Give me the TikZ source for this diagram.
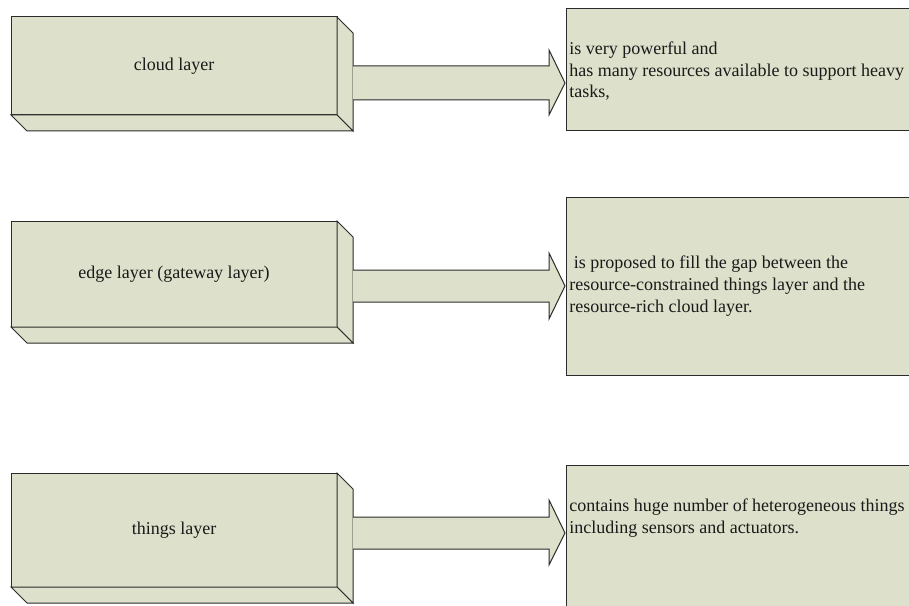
\documentclass[tikz,border=0pt]{standalone}
\usepackage{fontspec}
\setmainfont{Liberation Serif}
\definecolor{boxfill}{HTML}{DDE0CA}
\definecolor{edgecol}{HTML}{2B2B2B}
\definecolor{txt}{HTML}{1A1A1A}
\tikzset{
  face/.style={fill=boxfill, draw=edgecol, line width=0.75pt, line join=miter},
  lbl/.style={font=\fontsize{13.5pt}{16.4pt}\selectfont, text=txt, inner sep=0pt},
  desc/.style={lbl, align=left, anchor=base west},
}
% #1 front top, #2 front bottom, #3 name, #4 label
\newcommand{\layerblock}[4]{%
  \path[face] (11,#1) rectangle (337,#2);
  \path[face] (337,#1) -- (353,#1+16) -- (353,#2+16) -- (337,#2) -- cycle;
  \path[face] (11,#2) -- (337,#2) -- (353,#2+16) -- (27,#2+16) -- cycle;
  \node[lbl] (#3) at (174,{(#1+#2)/2}) {#4};
}
% #1 head top, #2 shaft top, #3 tip y, #4 shaft bottom, #5 head bottom
\newcommand{\blockarrow}[5]{%
  \path[face] (353,#2) -- (549,#2) -- (549,#1) -- (565,#3) -- (549,#5) -- (549,#4) -- (353,#4);
}
\begin{document}
\begin{tikzpicture}[x=0.75pt,y=-0.75pt]
  \useasboundingbox (0,0) rectangle (909,606);
  \clip (0,0) rectangle (909,606);
  \fill[white] (0,0) rectangle (909,606);

  % cloud layer
  \layerblock{17}{115}{cloud}{cloud layer}
  \blockarrow{50}{66}{83}{100}{115}
  \path[face] (566,9) rectangle (930,131);
  \node[desc] (clouddesc) at (569,98) {is very powerful and\\has many resources available to support heavy\\tasks,};

  % edge layer
  \layerblock{221}{327}{edge}{edge layer (gateway layer)}
  \blockarrow{253}{270}{286}{302}{319}
  \path[face] (566,197) rectangle (930,375);
  \node[desc] (edgedesc) at (569,312) {\mbox{} is proposed to fill the gap between the\\resource-constrained things layer and the\\resource-rich cloud layer.};

  % things layer
  \layerblock{473}{587}{things}{things layer}
  \blockarrow{500}{517}{533}{549}{565}
  \path[face] (566,465) rectangle (930,630);
  \node[desc] (thingsdesc) at (569,533) {contains huge number of heterogeneous things\\including sensors and actuators.};
\end{tikzpicture}
\end{document}
